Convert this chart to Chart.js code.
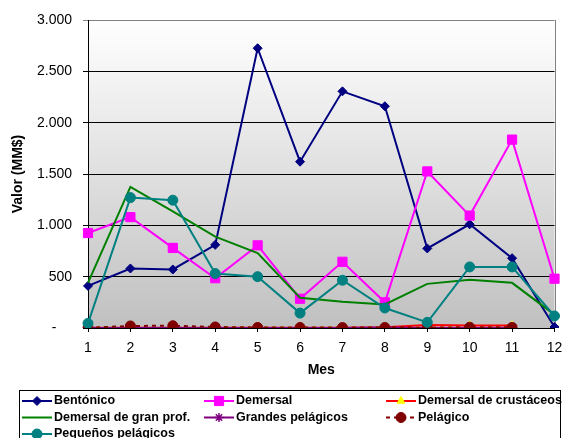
<!DOCTYPE html>
<html>
<head>
<meta charset="utf-8">
<script src="https://cdn.jsdelivr.net/npm/chart.js@4.4.1/dist/chart.umd.min.js"></script>
<style>
  body { margin: 0; background: #fff; }
  #wrap { width: 562px; height: 438px; position: relative; }
</style>
</head>
<body>
<div id="wrap"><canvas id="chart"></canvas></div>
<script>
// months on the x axis
var months = ['1', '2', '3', '4', '5', '6', '7', '8', '9', '10', '11', '12'];

// series values (MM$)
var bentonico = [410, 580, 570, 810, 2725, 1620, 2305, 2160, 775, 1010, 680, 10];
var demersal = [925, 1080, 780, 485, 805, 285, 645, 250, 1525, 1095, 1835, 480];
var crustaceos = [3, 3, 3, 3, 3, 3, 3, 8, 30, 25, 25, null];
var granProf = [440, 1375, 1135, 890, 730, 295, 255, 230, 430, 470, 440, 130];
var grandesPelagicos = [1, 1, 1, 1, 1, 1, 1, 5, 1, 1, 1, null];
var pelagico = [2, 20, 22, 10, 5, 5, 4, 5, 3, 8, 6, null];
var pequenos = [45, 1270, 1245, 530, 500, 145, 465, 195, 55, 595, 595, 117];

var seriesNames = ['Bentónico', 'Demersal', 'Demersal de crustáceos', 'Demersal de gran prof.',
  'Grandes pelágicos', 'Pelágico', 'Pequeños pelágicos'];
var yTicks = [0, 500, 1000, 1500, 2000, 2500, 3000];

var FONT = "'Liberation Sans', Arial, sans-serif";

function series(i, data, line, fill, style, radius, dash) {
  return {
    label: seriesNames[i],
    data: data,
    borderColor: line,
    backgroundColor: fill,
    pointBackgroundColor: fill,
    pointBorderColor: style === 'star' ? fill : fill,
    pointStyle: style || 'circle',
    pointRadius: style ? radius : 0,
    pointBorderWidth: style === 'star' ? 1.5 : 1,
    borderWidth: 2,
    borderDash: dash || [],
    tension: 0,
    order: 10 - i
  };
}

var datasets = [
  series(0, bentonico, '#000080', '#000080', 'rectRot', 4.5),
  series(1, demersal, '#ff00ff', '#ff00ff', 'rect', 6.5),
  series(2, crustaceos, '#ff0000', '#ffff00', 'triangle', 4.5),
  series(3, granProf, '#008000', '#008000', null, 0),
  series(4, grandesPelagicos, '#800080', '#800080', 'star', 4.5),
  series(5, pelagico, '#800000', '#800000', 'circle', 5, [4, 4]),
  series(6, pequenos, '#008080', '#008080', 'circle', 5)
];

function drawMarker(ctx, style, x, y, r, fill, stroke) {
  ctx.save();
  ctx.fillStyle = fill;
  ctx.strokeStyle = stroke;
  ctx.lineWidth = 1;
  ctx.setLineDash([]);
  ctx.beginPath();
  if (style === 'rectRot') {
    ctx.moveTo(x, y - r); ctx.lineTo(x + r, y); ctx.lineTo(x, y + r); ctx.lineTo(x - r, y); ctx.closePath();
    ctx.fill(); ctx.stroke();
  } else if (style === 'rect') {
    var s = r * Math.SQRT1_2;
    ctx.rect(x - s, y - s, 2 * s, 2 * s); ctx.fill(); ctx.stroke();
  } else if (style === 'triangle') {
    ctx.moveTo(x, y - r); ctx.lineTo(x + r * 0.87, y + r / 2); ctx.lineTo(x - r * 0.87, y + r / 2); ctx.closePath();
    ctx.fill(); ctx.stroke();
  } else if (style === 'circle') {
    ctx.arc(x, y, r, 0, Math.PI * 2); ctx.fill(); ctx.stroke();
  } else if (style === 'star') {
    ctx.lineWidth = 1.5;
    for (var k = 0; k < 4; k++) {
      var a = k * Math.PI / 4;
      ctx.moveTo(x - Math.cos(a) * r, y - Math.sin(a) * r);
      ctx.lineTo(x + Math.cos(a) * r, y + Math.sin(a) * r);
    }
    ctx.stroke();
  }
  ctx.restore();
}

var plotBackground = {
  id: 'plotBackground',
  beforeDraw: function (chart) {
    var a = chart.chartArea, ctx = chart.ctx;
    var g = ctx.createLinearGradient(0, a.top, 0, a.bottom);
    g.addColorStop(0, '#ffffff');
    g.addColorStop(1, '#c0c0c0');
    ctx.save();
    ctx.fillStyle = g;
    ctx.fillRect(a.left, a.top, a.right - a.left, a.bottom - a.top);
    ctx.restore();
  },
  beforeDatasetsDraw: function (chart) {
    var a = chart.chartArea, ctx = chart.ctx;
    ctx.save();
    ctx.strokeStyle = '#808080';
    ctx.lineWidth = 1;
    ctx.beginPath();
    ctx.moveTo(Math.round(a.right) + 0.5, a.top);
    ctx.lineTo(Math.round(a.right) + 0.5, a.bottom);
    ctx.stroke();
    ctx.restore();
  }
};

var boxLegend = {
  id: 'boxLegend',
  afterDraw: function (chart) {
    var ctx = chart.ctx;
    var cols = [22, 204, 386];
    var rows = [401, 417.5, 434];
    ctx.save();
    ctx.strokeStyle = '#000';
    ctx.lineWidth = 1;
    ctx.strokeRect(19.5, 390.5, 541, 60);
    ctx.font = 'bold 12.5px ' + FONT;
    ctx.textBaseline = 'middle';
    ctx.fillStyle = '#000';
    chart.data.datasets.forEach(function (ds, i) {
      var x = cols[i % 3], y = rows[Math.floor(i / 3)];
      ctx.save();
      ctx.strokeStyle = ds.borderColor;
      ctx.lineWidth = 2;
      ctx.setLineDash(ds.borderDash);
      ctx.beginPath();
      ctx.moveTo(x, y);
      ctx.lineTo(x + 30, y);
      ctx.stroke();
      ctx.restore();
      if (ds.pointRadius > 0) {
        drawMarker(ctx, ds.pointStyle, x + 15, y, ds.pointRadius, ds.pointBackgroundColor, ds.pointBorderColor);
      }
      ctx.fillText(ds.label, x + 32, y);
    });
    ctx.restore();
  }
};

var chart = new Chart(document.getElementById('chart').getContext('2d'), {
  type: 'line',
  data: { labels: months, datasets: datasets },
  options: {
    responsive: true,
    maintainAspectRatio: false,
    animation: false,
    layout: { padding: { top: 20, right: 7, bottom: 59, left: 0 } },
    plugins: { legend: { display: false }, tooltip: { enabled: false } },
    scales: {
      x: {
        offset: false,
        grid: { display: true, drawOnChartArea: false, drawTicks: true, tickLength: 4, color: '#000' },
        border: { display: true, color: '#000', width: 1 },
        ticks: { color: '#000', padding: 8, maxRotation: 0, autoSkip: false, font: { family: FONT, size: 14 } },
        title: { display: true, text: 'Mes', color: '#000', padding: { top: 0, bottom: 0 }, font: { family: FONT, size: 14, weight: 'bold' } },
        afterFit: function (scale) {
          scale.height = 51;
          scale.paddingLeft = 0;
          scale.paddingRight = 0;
        }
      },
      y: {
        min: 0,
        max: 3000,
        afterBuildTicks: function (scale) {
          scale.ticks = yTicks.map(function (v) { return { value: v }; });
        },
        grid: {
          color: function (c) { return c.tick && c.tick.value === 3000 ? '#808080' : '#000'; },
          tickLength: 5,
          lineWidth: 1
        },
        border: { display: true, color: '#000', width: 1 },
        ticks: {
          color: '#000',
          padding: 11,
          font: { family: FONT, size: 14 },
          callback: function (v) {
            if (v === 0) return '-    ';
            return v.toLocaleString('de-DE');
          }
        },
        title: { display: true, text: 'Valor (MM$)', color: '#000', padding: { top: 10, bottom: 0 }, font: { family: FONT, size: 14, weight: 'bold' } },
        afterFit: function (scale) {
          scale.width = 88;
        }
      }
    }
  },
  plugins: [plotBackground, boxLegend]
});
</script>
</body>
</html>
